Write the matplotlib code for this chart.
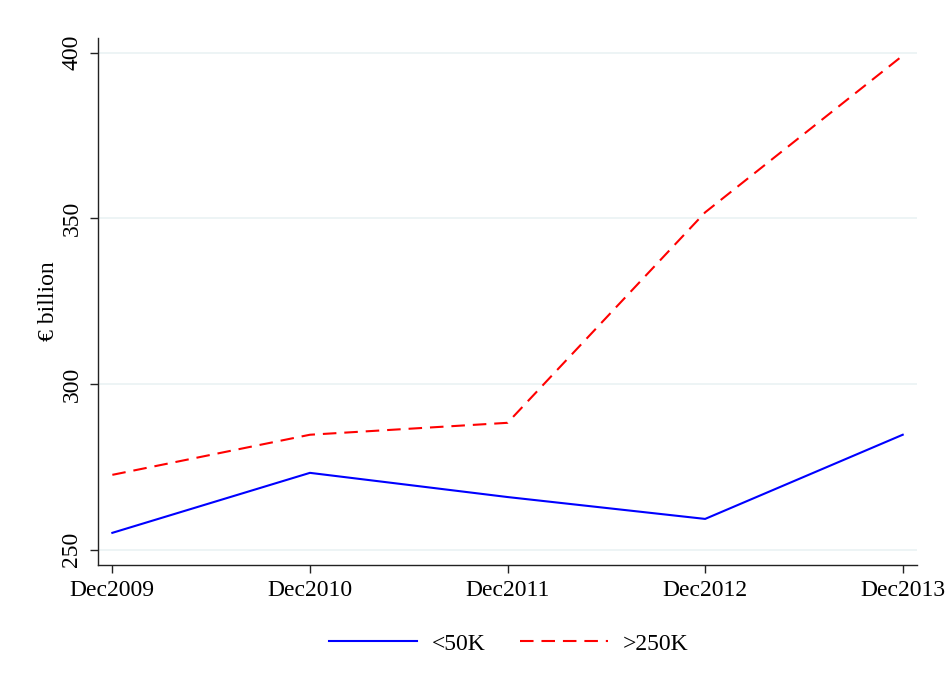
import matplotlib
matplotlib.use("Agg")
import matplotlib.pyplot as plt

plt.rcParams['font.family'] = ['Liberation Serif', 'DejaVu Serif']

periods = ["Dec2009", "Dec2010", "Dec2011", "Dec2012", "Dec2013"]
small_deposits = [255.1, 273.2, 265.9, 259.3, 284.7]   # <50K
large_deposits = [272.6, 284.7, 288.3, 351.8, 399.1]   # >250K
y_ticks = [250, 300, 350, 400]

fig = plt.figure(figsize=(9.46, 6.84), dpi=100)
ax = fig.add_axes([0.1033, 0.174, 0.866, 0.7704])

x = list(range(len(periods)))
ax.plot(x, small_deposits, color="#0000FF", lw=1.5, label="<50K")
ax.plot(x, large_deposits, color="#FF0000", lw=1.5, dashes=(6.5, 3.8), label=">250K")

ax.set_xlim(-0.074, 4.072)
ax.set_ylim(245.4, 404.4)
ax.set_xticks(x)
ax.set_xticklabels(periods, fontsize=17)
ax.set_yticks(y_ticks)
ax.set_yticklabels([str(v) for v in y_ticks], fontsize=17, rotation=90, va="center")

for v in y_ticks:
    ax.axhline(v, color="#EAF2F3", lw=1.2, zorder=0)

for s in ["top", "right"]:
    ax.spines[s].set_visible(False)
for s in ["left", "bottom"]:
    ax.spines[s].set_color("#222222")
    ax.spines[s].set_linewidth(1.0)
ax.tick_params(axis="both", direction="out", length=6, width=1.0, color="#222222", pad=5)

ax.set_ylabel("€ billion", fontsize=17, labelpad=2)

fig.legend(loc="lower center", bbox_to_anchor=(0.5375, 0.012), ncol=2, frameon=False,
           fontsize=17, handlelength=3.73, columnspacing=1.44, handletextpad=0.64)

fig.savefig("out.png", dpi=100, facecolor="white")
